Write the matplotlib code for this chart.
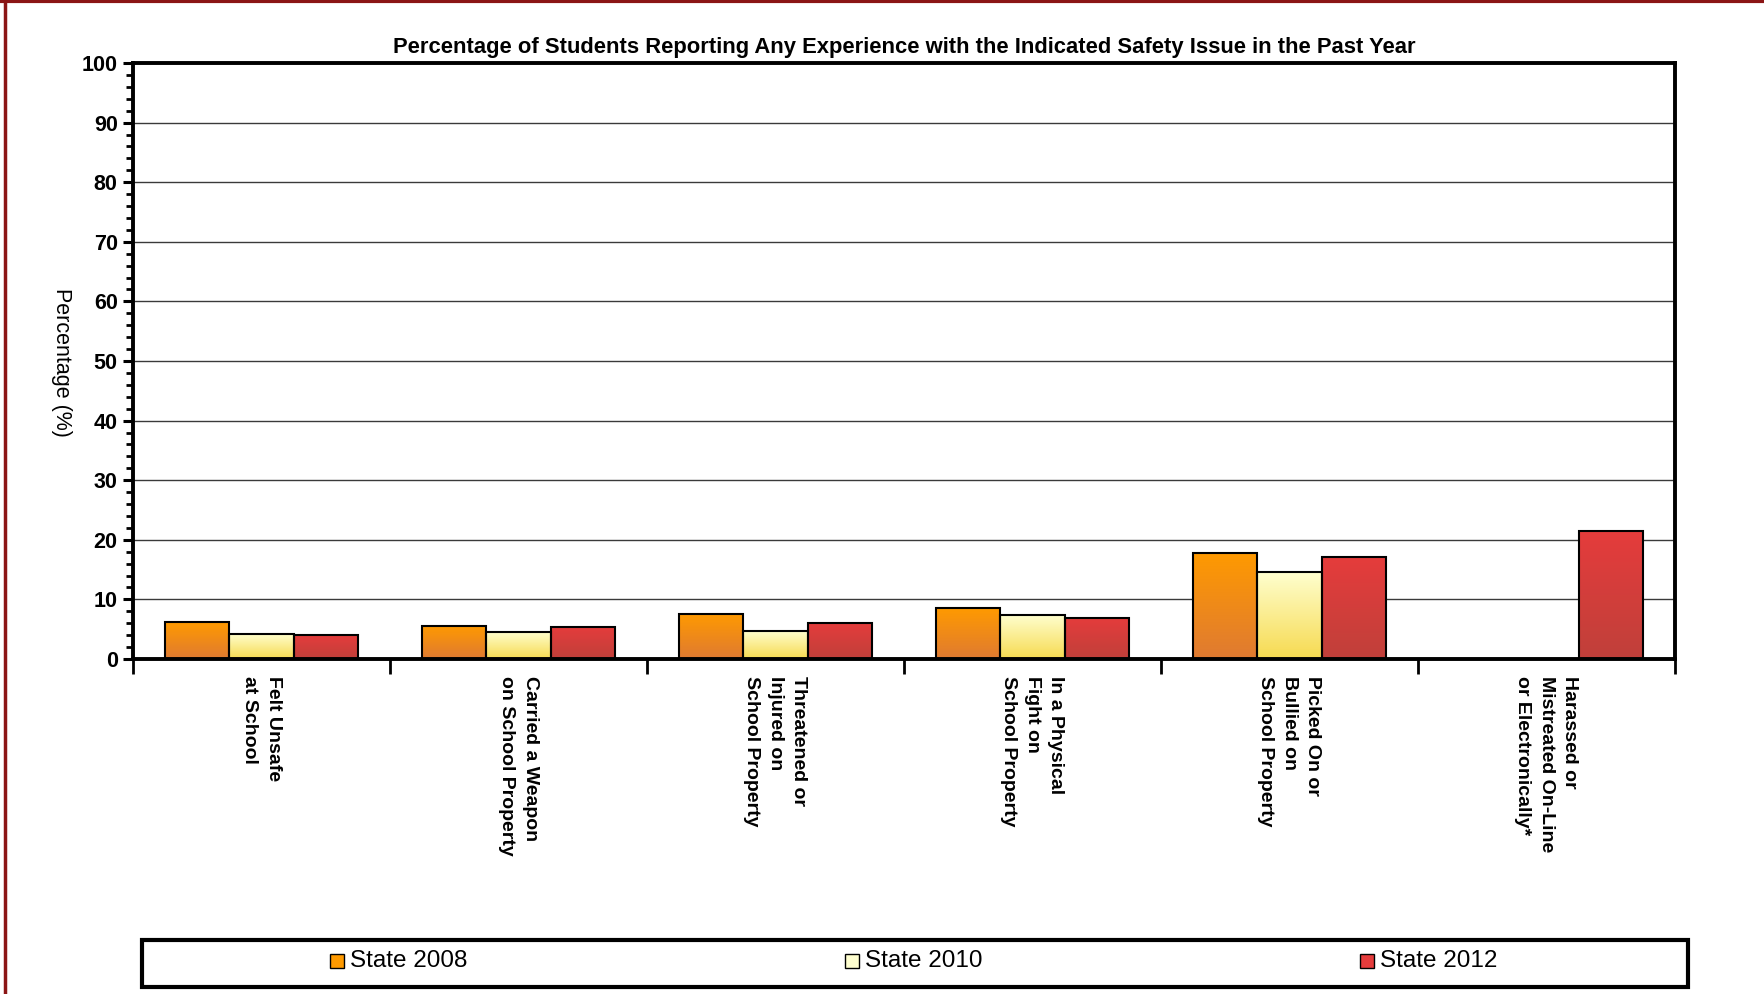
import numpy as np
import matplotlib
matplotlib.use("Agg")
import matplotlib.pyplot as plt
from matplotlib.colors import LinearSegmentedColormap
from matplotlib.patches import Rectangle
from matplotlib.lines import Line2D

plt.rcParams['font.family'] = ['Liberation Sans', 'DejaVu Sans']

categories = [
    "Felt Unsafe\nat School",
    "Carried a Weapon\non School Property",
    "Threatened or\nInjured on\nSchool Property",
    "In a Physical\nFight on\nSchool Property",
    "Picked On or\nBullied on\nSchool Property",
    "Harassed or\nMistreated On-Line\nor Electronically*",
]
series_names = ["State 2008", "State 2010", "State 2012"]
state_2008 = [6.2, 5.6, 7.6, 8.5, 17.8, np.nan]
state_2010 = [4.2, 4.6, 4.7, 7.45, 14.6, np.nan]
state_2012 = [4.0, 5.4, 6.1, 6.95, 17.1, 21.5]
title = "Percentage of Students Reporting Any Experience with the Indicated Safety Issue in the Past Year"
ylabel = "Percentage (%)"
yticks = [0, 10, 20, 30, 40, 50, 60, 70, 80, 90, 100]

series = [state_2008, state_2010, state_2012]
# gradient (top, bottom) colours per series
grads = [("#FF9A00", "#DF7A32"), ("#FFFFD0", "#F6DA50"), ("#E53C3C", "#C0403A")]

W, H = 1764, 994
fig = plt.figure(figsize=(W / 100, H / 100), dpi=100)
ax = fig.add_axes([133 / W, 1 - 659 / H, (1675 - 133) / W, (659 - 63) / H])

n = len(categories)
x = np.arange(n)
bw = 0.25
offsets = [-bw, 0, bw]

for s, vals in enumerate(series):
    cmap = LinearSegmentedColormap.from_list("g%d" % s, [grads[s][1], grads[s][0]])
    grad = np.linspace(0, 1, 256).reshape(-1, 1)
    for i, v in enumerate(vals):
        if np.isnan(v):
            continue
        x0 = x[i] + offsets[s] - bw / 2
        ax.imshow(grad, extent=[x0, x0 + bw, 0, v], origin="lower", cmap=cmap,
                  aspect="auto", zorder=2, interpolation="bilinear")
    ax.bar(x + offsets[s], np.nan_to_num(np.array(vals), nan=0.0), width=bw,
           facecolor="none", edgecolor=["black" if not np.isnan(v) else "none" for v in vals],
           linewidth=1.5, zorder=3)

ax.set_xlim(-0.5, n - 0.5)
ax.set_ylim(0, 100)

# grid
for yv in yticks[1:-1]:
    ax.axhline(yv, color="#3a3a3a", linewidth=1.0, zorder=1)

for sp in ax.spines.values():
    sp.set_linewidth(2.8)
    sp.set_color("black")

ax.set_yticks(yticks)
ax.set_yticks(np.arange(0, 101, 2), minor=True)
ax.tick_params(axis="y", which="major", direction="out", length=7, width=2.2, labelsize=15.5, pad=4)
ax.tick_params(axis="y", which="minor", direction="out", length=5, width=2.0)
for lab in ax.get_yticklabels():
    lab.set_fontweight("bold")

ax.set_xticks(np.arange(-0.5, n, 1.0))
ax.set_xticklabels([])
ax.set_xticks(x, minor=True)
ax.set_xticklabels(categories, minor=True, rotation=-90, fontsize=14, fontweight="bold",
                   va="top", ha="center", multialignment="left", linespacing=1.5)
ax.tick_params(axis="x", which="major", direction="out", length=11, width=2.0)
ax.tick_params(axis="x", which="minor", length=0, pad=12)

ax.set_title(title, fontsize=15.8, fontweight="bold", pad=7)
fig.text(61 / W, 1 - 362 / H, ylabel, rotation=-90, fontsize=15.5, ha="center", va="center")

# legend box
lx0, ly0, lw_, lh = 142, 940, 1546, 47
fig.patches.append(Rectangle((lx0 / W, 1 - (ly0 + lh) / H), lw_ / W, lh / H,
                             transform=fig.transFigure, facecolor="white",
                             edgecolor="black", linewidth=3.0))
cy = 1 - 961 / H
for s, name in enumerate(series_names):
    cx = lx0 + lw_ * (s + 0.5) / 3
    px = cx - 70
    fig.patches.append(Rectangle((px / W, cy - 7 / H), 14 / W, 14 / H,
                                 transform=fig.transFigure, facecolor=grads[s][0],
                                 edgecolor="black", linewidth=1.0))
    fig.text((px + 20) / W, cy, name, fontsize=17.5, ha="left", va="center")

# outer dark red frame (left and top)
fig.add_artist(Line2D([5 / W, 5 / W], [0, 1], transform=fig.transFigure, color="#8B1515", linewidth=2.5))
fig.add_artist(Line2D([0, 1], [1 - 1 / H, 1 - 1 / H], transform=fig.transFigure, color="#8B1515", linewidth=3))

fig.savefig("out.png", dpi=100, facecolor="white")
